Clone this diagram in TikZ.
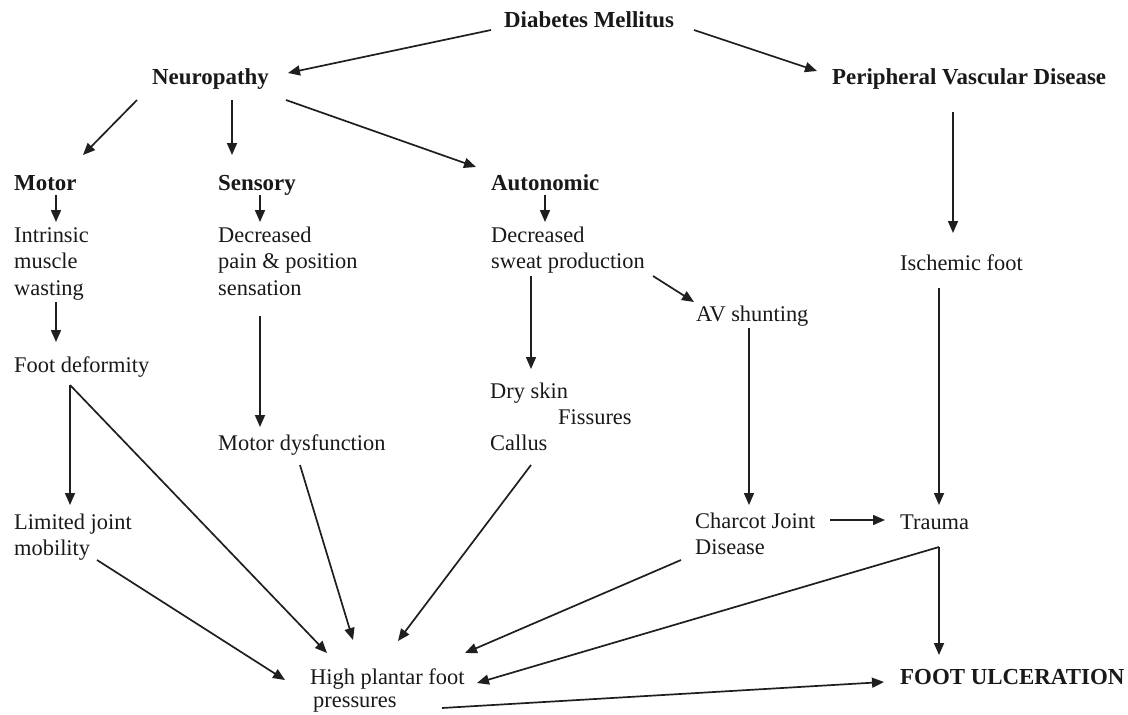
\documentclass[tikz,border=0pt]{standalone}
\usepackage{fontspec}
\setmainfont{Liberation Serif}
\usetikzlibrary{arrows.meta}
\begin{document}
\begin{tikzpicture}[x=1pt,y=-1pt,
  lbl/.style={anchor=base west, inner sep=0pt, align=left, text=black!90,
              font=\fontsize{22.4}{26.5}\selectfont},
  bl/.style={lbl, font=\fontsize{22.9}{26.5}\selectfont\bfseries},
  arr/.style={-{Triangle[length=12pt,width=10pt]}, line width=1.7pt, draw=black!88},
  ln/.style={line width=1.7pt, draw=black!88}]
\path[use as bounding box, fill=white] (0,0) rectangle (1128,715);

% nodes (multi-line nodes are placed at the baseline of their last line)
\node[bl] (dm) at (504,27) {Diabetes Mellitus};
\node[bl] (neuro) at (152,84) {Neuropathy};
\node[bl] (pvd) at (832,84) {Peripheral Vascular Disease};
\node[bl] (motor) at (14,190) {Motor};
\node[bl] (sens) at (218,190) {Sensory};
\node[bl] (auto) at (491,190) {Autonomic};
\node[lbl] (intr) at (14,295) {Intrinsic\\muscle\\wasting};
\node[lbl] (decp) at (218,295) {Decreased\\pain \& position\\sensation};
\node[lbl] (decs) at (491,268.5) {Decreased\\sweat production};
\node[lbl] (isch) at (900,270) {Ischemic foot};
\node[lbl] (av) at (696,321) {AV shunting};
\node[lbl] (fdef) at (14,372) {Foot deformity};
\node[lbl, font=\fontsize{22.4}{26}\selectfont] (dry) at (490,450) {Dry skin\\\hspace*{68pt}Fissures\\Callus};
\node[lbl] (mdys) at (218,450) {Motor dysfunction};
\node[lbl, font=\fontsize{22.4}{26}\selectfont] (ljm) at (14,555) {Limited joint\\mobility};
\node[lbl, font=\fontsize{22.4}{26}\selectfont] (charcot) at (695,554) {Charcot Joint\\Disease};
\node[lbl] (trauma) at (900,529) {Trauma};
\node[lbl] (hpfp) at (310,707) {High plantar foot\\[-3.5pt]\hspace*{3pt}pressures};
\node[bl] (fu) at (900,684) {FOOT ULCERATION};

% connector end points
\coordinate (dm-w) at (491,30);   \coordinate (neuro-in) at (288,73);
\coordinate (dm-e) at (694,30);   \coordinate (pvd-in) at (817,71);
\coordinate (neuro-o1) at (137,100); \coordinate (motor-in) at (83,155);
\coordinate (neuro-o2) at (232,100); \coordinate (sens-in) at (232,155);
\coordinate (neuro-o3) at (286,100); \coordinate (auto-in) at (476,167);
\coordinate (motor-o) at (56,195);  \coordinate (intr-in) at (56,222);
\coordinate (sens-o) at (260,195);  \coordinate (decp-in) at (260,222);
\coordinate (auto-o) at (545,195);  \coordinate (decs-in) at (545,222);
\coordinate (intr-o) at (56,302);   \coordinate (fdef-in) at (56,342);
\coordinate (decp-o) at (260,316);  \coordinate (mdys-in) at (260,427);
\coordinate (decs-o1) at (531,276); \coordinate (dry-in) at (531,369);
\coordinate (decs-o2) at (653,276); \coordinate (av-in) at (694,302);
\coordinate (av-o) at (749,328);    \coordinate (charcot-in) at (749,505);
\coordinate (pvd-o) at (953,112);   \coordinate (isch-in) at (953,233);
\coordinate (isch-o) at (939,288);  \coordinate (trauma-in) at (939,505);
\coordinate (charcot-o1) at (830,520); \coordinate (trauma-in2) at (885,520);
\coordinate (trauma-o) at (939,547); \coordinate (fu-in1) at (939,655);
\coordinate (hp-in1) at (477,683);
\coordinate (charcot-o2) at (681,560); \coordinate (hp-in2) at (465,653);
\coordinate (dry-o) at (531,465);   \coordinate (hp-in3) at (398,641);
\coordinate (mdys-o) at (300,465);  \coordinate (hp-in4) at (353,640);
\coordinate (fdef-o) at (70,385);   \coordinate (hp-in5) at (327,653);
\coordinate (ljm-in) at (70,505);
\coordinate (ljm-o) at (97,560);    \coordinate (hp-in6) at (285,680);
\coordinate (hp-o) at (442,708);    \coordinate (fu-in2) at (884,682);

% connectors
\draw[arr] (dm-w) -- (neuro-in);
\draw[arr] (dm-e) -- (pvd-in);
\draw[arr] (neuro-o1) -- (motor-in);
\draw[arr] (neuro-o2) -- (sens-in);
\draw[arr] (neuro-o3) -- (auto-in);
\draw[arr] (motor-o) -- (intr-in);
\draw[arr] (sens-o) -- (decp-in);
\draw[arr] (auto-o) -- (decs-in);
\draw[arr] (intr-o) -- (fdef-in);
\draw[arr] (decp-o) -- (mdys-in);
\draw[arr] (decs-o1) -- (dry-in);
\draw[arr] (decs-o2) -- (av-in);
\draw[arr] (av-o) -- (charcot-in);
\draw[arr] (pvd-o) -- (isch-in);
\draw[arr] (isch-o) -- (trauma-in);
\draw[arr] (charcot-o1) -- (trauma-in2);
\draw[arr] (trauma-o) -- (fu-in1);
\draw[arr] (trauma-o) -- (hp-in1);
\draw[arr] (charcot-o2) -- (hp-in2);
\draw[arr] (dry-o) -- (hp-in3);
\draw[arr] (mdys-o) -- (hp-in4);
\draw[arr] (fdef-o) -- (hp-in5);
\draw[arr] (fdef-o) -- (ljm-in);
\draw[arr] (ljm-o) -- (hp-in6);
\draw[arr] (hp-o) -- (fu-in2);
\end{tikzpicture}
\end{document}
